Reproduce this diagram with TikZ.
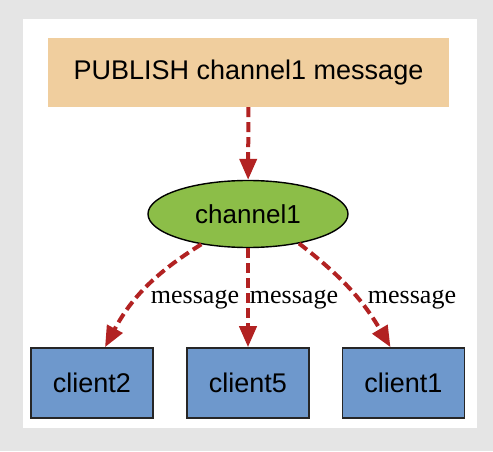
\documentclass[tikz,border=0pt]{standalone}
\usepackage{fontspec}
\setmainfont{Liberation Serif}
\setsansfont{Liberation Sans}
\usetikzlibrary{shapes,arrows.meta,positioning,calc}
\definecolor{bggray}{RGB}{229,229,229}
\definecolor{pubtan}{RGB}{240,206,158}
\definecolor{changreen}{RGB}{140,190,72}
\definecolor{clientblue}{RGB}{110,152,204}
\definecolor{msgred}{RGB}{178,34,34}

\begin{document}
\begin{tikzpicture}[x=1pt, y=1pt,
    client/.style={draw=black!85, line width=1.6pt, fill=clientblue, minimum width=122pt, minimum height=70pt, font=\sffamily\fontsize{27}{30}\selectfont},
    msg/.style={->, msgred, line width=4pt, dash pattern=on 10pt off 5pt, >={Triangle[width=17pt,length=21pt]}},
    lbl/.style={font=\fontsize{26}{28}\selectfont, inner sep=0pt}]
    \fill[bggray] (0,0) rectangle (493,451);
    \fill[white] (23,23) rectangle (477,432);
    \useasboundingbox (0,0) rectangle (493,451);

    \node[fill=pubtan, minimum width=401pt, minimum height=69pt, font=\sffamily\fontsize{27}{30}\selectfont] (pub) at (248.5,378.5) {PUBLISH channel1 message};
    \node[draw=black, line width=1.4pt, ellipse, fill=changreen, minimum width=200pt, minimum height=67pt, inner sep=0pt, font=\sffamily\fontsize{26}{28}\selectfont] (ch) at (248,237) {channel1};

    \node[client] (c2) at (92,68) {client2};
    \node[client] (c5) at (248,68) {client5};
    \node[client] (c1) at (403.5,68) {client1};

    \draw[msg] (pub) -- (ch);
    \draw[msg] (ch.213) to[bend right=15] (c2.70);
    \draw[msg] (ch) -- (c5);
    \draw[msg] (ch.330) to[bend left=11] (c1.110);

    \node[lbl] (m2) at (195,151) {message};
    \node[lbl] (m5) at (294,151) {message};
    \node[lbl] (m1) at (412,151) {message};
\end{tikzpicture}
\end{document}
